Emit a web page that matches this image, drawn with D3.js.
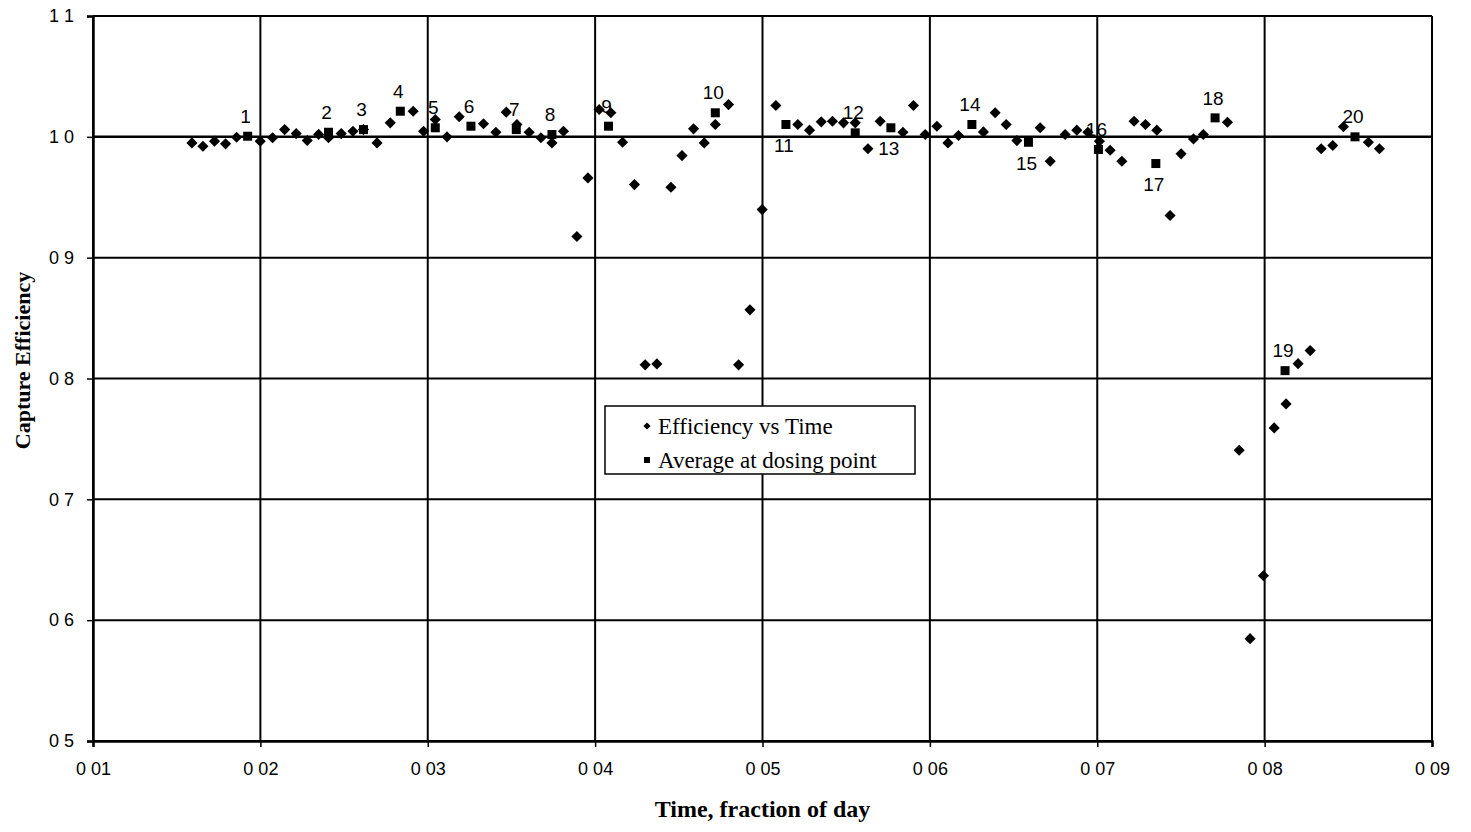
<!DOCTYPE html>
<html>
<head>
<meta charset="utf-8">
<script src="https://cdn.jsdelivr.net/npm/d3@7"></script>
<style>
  body { margin: 0; background: #fff; }
  svg { display: block; }
</style>
</head>
<body>
<div id="container"></div>
<script>
/* CONSTANTS AND GLOBALS */
const width = 1471,
  height = 832,
  margin = { top: 16, bottom: 91, left: 93, right: 39 }

/* DATA */
// efficiency vs time (diamonds)
const effTime = [0.01591, 0.01657, 0.01726, 0.01792, 0.01858, 0.01999, 0.02073, 0.02145, 0.02214, 0.0228,
  0.02348, 0.02407, 0.02483, 0.02553, 0.02616, 0.02697, 0.02776, 0.02913, 0.02975, 0.03045,
  0.03115, 0.03188, 0.03333, 0.03407, 0.03469, 0.03533, 0.03606, 0.03676, 0.03742, 0.03811,
  0.03891, 0.03957, 0.04024, 0.04094, 0.04164, 0.04235, 0.04299, 0.04369, 0.04453, 0.04519,
  0.04588, 0.04652, 0.04718, 0.04797, 0.04857, 0.04925, 0.04998, 0.0508, 0.05211, 0.05281,
  0.05351, 0.05418, 0.05484, 0.05554, 0.0563, 0.05703, 0.05839, 0.05902, 0.05972, 0.06042,
  0.06108, 0.06171, 0.0632, 0.0639, 0.06456, 0.0652, 0.06659, 0.06719, 0.06808, 0.06878,
  0.06944, 0.07013, 0.07077, 0.07147, 0.0722, 0.07288, 0.07356, 0.07435, 0.07501, 0.07575,
  0.07634, 0.07778, 0.07848, 0.07913, 0.07993, 0.08057, 0.08128, 0.082, 0.08272, 0.08338,
  0.08407, 0.08471, 0.0862, 0.08686]
const effValue = [0.995, 0.9922, 0.9964, 0.9942, 0.9997, 0.9964, 0.9992, 1.006, 1.0027, 0.997,
  1.002, 0.9992, 1.0027, 1.0046, 1.006, 0.995, 1.0116, 1.0212, 1.0046, 1.0143,
  1.0, 1.0166, 1.0108, 1.0038, 1.0204, 1.0102, 1.0038, 0.9992, 0.995, 1.0046,
  0.9175, 0.966, 1.0226, 1.0199, 0.9955, 0.9605, 0.8113, 0.8121, 0.9583, 0.9845,
  1.0066, 0.995, 1.0102, 1.0267, 0.8113, 0.8568, 0.9398, 1.0259, 1.0102, 1.0055,
  1.0124, 1.0129, 1.0116, 1.0116, 0.9901, 1.0129, 1.0038, 1.0259, 1.0019, 1.0088,
  0.995, 1.0011, 1.0041, 1.0199, 1.0102, 0.9969, 1.0075, 0.9798, 1.0019, 1.0055,
  1.0038, 0.9964, 0.9889, 0.9798, 1.0129, 1.0102, 1.0055, 0.9349, 0.9859, 0.9983,
  1.0019, 1.0121, 0.7406, 0.5847, 0.6368, 0.7591, 0.779, 0.8123, 0.8231, 0.9901,
  0.9928, 1.0083, 0.9955, 0.9901]

// average at dosing point (squares), numbered 1..20
const doseLabel = [1, 2, 3, 4, 5, 6, 7, 8, 9, 10, 11, 12, 13, 14, 15, 16, 17, 18, 19, 20]
const doseTime = [0.01924, 0.02407, 0.02616, 0.02836, 0.03045, 0.03258, 0.03529, 0.03742, 0.0408, 0.04718,
  0.0514, 0.05554, 0.05767, 0.06251, 0.06589, 0.07007, 0.0735, 0.07704, 0.08122, 0.0854]
const doseValue = [1.0005, 1.0038, 1.006, 1.0212, 1.0075, 1.0088, 1.006, 1.0019, 1.0088, 1.0199,
  1.0102, 1.0033, 1.0075, 1.0102, 0.9955, 0.9895, 0.9779, 1.0157, 0.8065, 1.0]
// labels drawn under the marker instead of above
const labelsBelow = [11, 13, 15, 17]

const xTicks = [0.01, 0.02, 0.03, 0.04, 0.05, 0.06, 0.07, 0.08, 0.09]
const yTicks = [0.5, 0.6, 0.7, 0.8, 0.9, 1.0, 1.1]
const legendItems = ["Efficiency vs Time", "Average at dosing point"]

const effData = effTime.map((t, i) => ({ t, v: effValue[i] }))
const doseData = doseTime.map((t, i) => ({ t, v: doseValue[i], n: doseLabel[i] }))

/* SCALES */
const xScale = d3.scaleLinear()
  .domain([0.01, 0.09])
  .range([margin.left, width - margin.right])

const yScale = d3.scaleLinear()
  .domain([0.5, 1.1])
  .range([height - margin.bottom, margin.top])

const sansFont = "'Liberation Sans', Arial, sans-serif"
const serifFont = "'Liberation Serif', 'Times New Roman', serif"

/* HTML ELEMENTS */
const svg = d3.select("#container")
  .append("svg")
  .attr("width", width)
  .attr("height", height)
  .style("background", "#fff")

// gridlines
svg.append("g")
  .selectAll("line")
  .data(yTicks)
  .join("line")
  .attr("x1", margin.left)
  .attr("x2", width - margin.right)
  .attr("y1", d => yScale(d))
  .attr("y2", d => yScale(d))
  .attr("stroke", "#000")
  .attr("stroke-width", d => d === 1.0 ? 2.5 : 2)

svg.append("g")
  .selectAll("line")
  .data(xTicks)
  .join("line")
  .attr("x1", d => xScale(d))
  .attr("x2", d => xScale(d))
  .attr("y1", margin.top)
  .attr("y2", height - margin.bottom)
  .attr("stroke", "#000")
  .attr("stroke-width", 2)

// axes
const xAxis = d3.axisBottom(xScale)
  .tickValues(xTicks)
  .tickSize(6)
  .tickPadding(15)
  .tickFormat(d => d3.format(".2f")(d).replace(".", " "))

const yAxis = d3.axisLeft(yScale)
  .tickValues(yTicks)
  .tickSize(6)
  .tickPadding(13)
  .tickFormat(d => d3.format(".1f")(d).replace(".", " "))

const gx = svg.append("g")
  .attr("transform", `translate(0,${height - margin.bottom})`)
  .call(xAxis)

const gy = svg.append("g")
  .attr("transform", `translate(${margin.left},0)`)
  .call(yAxis)

for (const g of [gx, gy]) {
  g.select(".domain").attr("stroke-width", 2.5)
  g.selectAll(".tick line").attr("stroke-width", 1.5)
  g.selectAll(".tick text")
    .attr("fill", "#000")
    .style("font-family", sansFont)
    .style("font-size", "18px")
}

// axis titles
svg.append("text")
  .attr("x", xScale(0.05))
  .attr("y", height - 15)
  .attr("text-anchor", "middle")
  .style("font-family", serifFont)
  .style("font-weight", "bold")
  .style("font-size", "24px")
  .text("Time, fraction of day")

svg.append("text")
  .attr("transform", `translate(30,${yScale(0.8) - 18}) rotate(-90)`)
  .attr("text-anchor", "middle")
  .style("font-family", serifFont)
  .style("font-weight", "bold")
  .style("font-size", "22px")
  .text("Capture Efficiency")

// diamonds
const diamond = d3.symbol().type(d3.symbolSquare).size(62)
svg.append("g")
  .selectAll("path")
  .data(effData)
  .join("path")
  .attr("d", diamond)
  .attr("transform", d => `translate(${xScale(d.t)},${yScale(d.v)}) rotate(45)`)
  .attr("fill", "#000")

// squares
const square = d3.symbol().type(d3.symbolSquare).size(81)
svg.append("g")
  .selectAll("path")
  .data(doseData)
  .join("path")
  .attr("d", square)
  .attr("transform", d => `translate(${xScale(d.t)},${yScale(d.v)})`)
  .attr("fill", "#000")

// point numbers
svg.append("g")
  .selectAll("text")
  .data(doseData)
  .join("text")
  .attr("x", d => xScale(d.t) - 2)
  .attr("y", d => yScale(d.v) + (labelsBelow.includes(d.n) ? 21 : -20))
  .attr("dy", "0.35em")
  .attr("text-anchor", "middle")
  .style("font-family", sansFont)
  .style("font-size", "19px")
  .text(d => d.n)

// legend
const legend = svg.append("g")
  .attr("transform", "translate(605,406)")

legend.append("rect")
  .attr("width", 310)
  .attr("height", 68)
  .attr("fill", "#fff")
  .attr("stroke", "#000")
  .attr("stroke-width", 1.5)

const legendRows = legend.selectAll("g.row")
  .data(legendItems)
  .join("g")
  .attr("class", "row")
  .attr("transform", (d, i) => `translate(0,${20 + i * 34})`)

legendRows.append("path")
  .attr("d", (d, i) => i === 0
    ? d3.symbol().type(d3.symbolSquare).size(26)()
    : d3.symbol().type(d3.symbolSquare).size(36)())
  .attr("transform", (d, i) => `translate(42,0)${i === 0 ? " rotate(45)" : ""}`)
  .attr("fill", "#000")

legendRows.append("text")
  .attr("x", 53)
  .attr("dy", "0.35em")
  .style("font-family", serifFont)
  .style("font-size", "23px")
  .text(d => d)
</script>
</body>
</html>
